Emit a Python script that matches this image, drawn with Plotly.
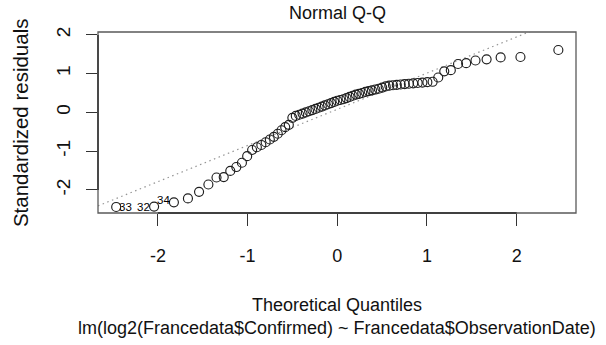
import numpy as np
import plotly.graph_objects as go

# Theoretical quantiles (x positions of the 73 points)
theoretical = [
    -2.4652, -2.0426, -1.8217, -1.6651, -1.5411, -1.4371, -1.3467, -1.2661, -1.1930, -1.1258,
    -1.0632, -1.0047, -0.9493, -0.8967, -0.8465, -0.7984, -0.7520, -0.7072, -0.6638, -0.6215,
    -0.5804, -0.5402, -0.5009, -0.4623, -0.4244, -0.3872, -0.3504, -0.3141, -0.2783, -0.2427,
    -0.2075, -0.1725, -0.1378, -0.1032, -0.0687, -0.0343, 0.0,
    0.0343, 0.0687, 0.1032, 0.1378, 0.1725, 0.2075, 0.2427, 0.2783, 0.3141, 0.3504,
    0.3872, 0.4244, 0.4623, 0.5009, 0.5402, 0.5804, 0.6215, 0.6638, 0.7072, 0.7520,
    0.7984, 0.8465, 0.8967, 0.9493, 1.0047, 1.0632, 1.1258, 1.1930, 1.2661, 1.3467,
    1.4371, 1.5411, 1.6651, 1.8217, 2.0426, 2.4652,
]

# Standardized residuals (sorted)
residuals = [
    -2.44, -2.43, -2.32, -2.22, -2.05, -1.86, -1.68, -1.67, -1.51, -1.41,
    -1.30, -1.13, -0.97, -0.90, -0.84, -0.77, -0.70, -0.63, -0.55, -0.46,
    -0.38, -0.32, -0.14, -0.09, -0.06, -0.03, 0.00, 0.03, 0.06, 0.09,
    0.12, 0.15, 0.18, 0.21, 0.24, 0.27, 0.30,
    0.32, 0.34, 0.37, 0.40, 0.43, 0.46, 0.48, 0.50, 0.53, 0.55,
    0.57, 0.59, 0.61, 0.64, 0.67, 0.69, 0.70, 0.71, 0.72, 0.73,
    0.74, 0.75, 0.76, 0.77, 0.78, 0.79, 0.90, 1.06, 1.09, 1.25,
    1.27, 1.34, 1.37, 1.42, 1.43, 1.61,
]

# Labelled observations and the point index they sit next to
label_ids = ["33", "32", "34"]
label_points = [0, 1, 1]

x_ticks = [-2, -1, 0, 1, 2]
y_ticks = [-2, -1, 0, 1, 2]

title_text = "Normal Q-Q"
x_title = "Theoretical Quantiles"
y_title = "Standardized residuals"
subtitle = "lm(log2(Francedata$Confirmed) ~ Francedata$ObservationDate)"

FONT = "Liberation Sans, Arial, Helvetica, sans-serif"
x_range = [-2.668, 2.662]
y_range = [-2.596, 2.075]

# qqline through the quartiles (as R's qqline does)
q_theo = 0.6744898
y25, y75 = np.quantile(residuals, [0.25, 0.75])
slope = (y75 - y25) / (2 * q_theo)
intercept = y25 + slope * q_theo
line_x = np.array(x_range)
line_y = intercept + slope * line_x

fig = go.Figure()
fig.add_trace(go.Scatter(
    x=line_x, y=line_y, mode="lines",
    line=dict(color="#959595", width=1.2, dash="1.5px,3.5px"),
    hoverinfo="skip", showlegend=False,
))
fig.add_trace(go.Scatter(
    x=theoretical, y=residuals, mode="markers",
    marker=dict(symbol="circle-open", size=9, color="#1e1e1e",
                line=dict(width=1.15)),
    showlegend=False,
))

# point labels
label_style = [
    dict(xanchor="left", xshift=2, yshift=0),
    dict(xanchor="right", xshift=-3, yshift=0),
    dict(xanchor="left", xshift=2, yshift=7),
]
for lab, idx, st in zip(label_ids, label_points, label_style):
    fig.add_annotation(
        x=theoretical[idx], y=residuals[idx], text=lab, showarrow=False,
        xanchor=st["xanchor"], yanchor="middle", xshift=st["xshift"], yshift=st["yshift"],
        borderpad=0,
        font=dict(family=FONT, size=11.5, color="#000000"),
    )

# box
fig.add_shape(type="rect", xref="paper", yref="paper", x0=0, x1=1, y0=0, y1=1,
              line=dict(color="#5a5a5a", width=1.3), layer="above")
# axis lines spanning the tick range (as R draws them)
fig.add_shape(type="line", xref="x", yref="paper", x0=x_ticks[0], x1=x_ticks[-1], y0=0, y1=0,
              line=dict(color="#2a2a2a", width=1.4), layer="above")
fig.add_shape(type="line", xref="paper", yref="y", x0=0, x1=0, y0=y_ticks[0], y1=y_ticks[-1],
              line=dict(color="#2a2a2a", width=1.4), layer="above")

fig.add_annotation(text=title_text, xref="paper", yref="paper", x=0.5, y=1.105,
                   xanchor="center", yanchor="middle", showarrow=False,
                   font=dict(family=FONT, size=18, color="#111111"))
fig.add_annotation(text=x_title, xref="paper", yref="paper", x=0.5, y=-0.51,
                   xanchor="center", yanchor="middle", showarrow=False,
                   font=dict(family=FONT, size=18, color="#111111"))
fig.add_annotation(text=subtitle, xref="paper", yref="paper", x=0.5, y=-0.635,
                   xanchor="center", yanchor="middle", showarrow=False,
                   font=dict(family=FONT, size=18, color="#111111"))
fig.add_annotation(text=y_title, xref="paper", yref="paper", x=-0.162, y=0.5,
                   xanchor="center", yanchor="middle", showarrow=False, textangle=-90,
                   font=dict(family=FONT, size=20.5, color="#111111"))

fig.update_layout(
    width=606, height=345,
    margin=dict(l=98, r=30, t=32, b=132),
    paper_bgcolor="white", plot_bgcolor="white",
    showlegend=False,
    xaxis=dict(range=x_range, tickvals=x_ticks, ticktext=[str(v) for v in x_ticks],
               ticks="outside", ticklen=12, tickwidth=1.2, tickcolor="#333333",
               showgrid=False, zeroline=False, showline=False,
               ticklabelstandoff=14,
               tickfont=dict(family=FONT, size=18, color="#111111")),
    yaxis=dict(range=y_range, tickvals=y_ticks, ticktext=[str(v) for v in y_ticks],
               ticks="outside", ticklen=11, tickwidth=1.2, tickcolor="#333333",
               showgrid=False, zeroline=False, showline=False, tickangle=-90,
               ticklabelstandoff=8,
               tickfont=dict(family=FONT, size=19, color="#111111")),
)

fig.write_html("out.html")
